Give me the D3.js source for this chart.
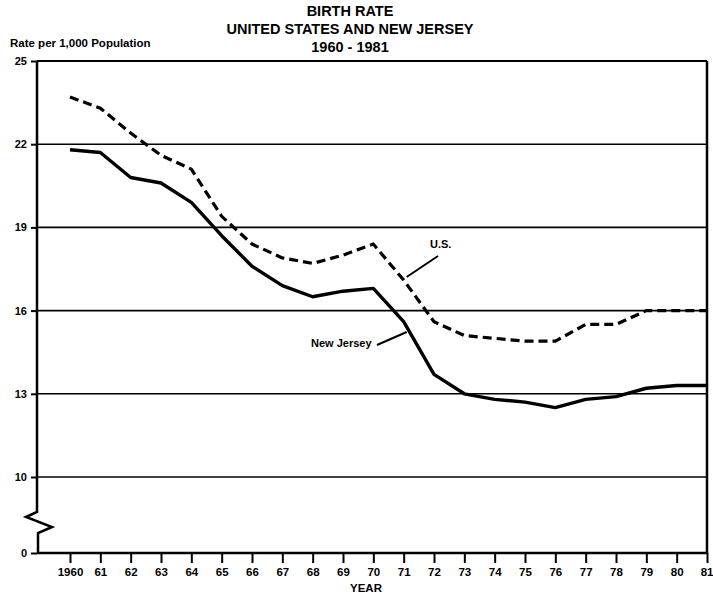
<!DOCTYPE html>
<html>
<head>
<meta charset="utf-8">
<script src="https://cdn.jsdelivr.net/npm/d3@7/dist/d3.min.js"></script>
<style>
  body { margin: 0; background: #fff; }
  svg text { font-family: "Liberation Sans", Arial, Helvetica, sans-serif; font-weight: bold; fill: #000; }
</style>
</head>
<body>
<div id="chart"></div>
<script>
let years = [1960, 1961, 1962, 1963, 1964, 1965, 1966, 1967, 1968, 1969, 1970,
             1971, 1972, 1973, 1974, 1975, 1976, 1977, 1978, 1979, 1980, 1981];
let usRate = [23.7, 23.3, 22.4, 21.6, 21.1, 19.4, 18.4, 17.9, 17.7, 18.0, 18.4,
              17.1, 15.6, 15.1, 15.0, 14.9, 14.9, 15.5, 15.5, 16.0, 16.0, 16.0];
let njRate = [21.8, 21.7, 20.8, 20.6, 19.9, 18.7, 17.6, 16.9, 16.5, 16.7, 16.8,
              15.6, 13.7, 13.0, 12.8, 12.7, 12.5, 12.8, 12.9, 13.2, 13.3, 13.3];
let yTicks = [0, 10, 13, 16, 19, 22, 25];
let gridTicks = [10, 13, 16, 19, 22, 25];
let yearLabels = ["1960", "61", "62", "63", "64", "65", "66", "67", "68", "69", "70",
                  "71", "72", "73", "74", "75", "76", "77", "78", "79", "80", "81"];
let titleLines = ["BIRTH RATE", "UNITED STATES AND NEW JERSEY", "1960 - 1981"];

function renderChart(){
  let width = 713,
      height = 594;

  let svg = d3.select("#chart")
    .append("svg")
    .attr("width", width)
    .attr("height", height)

  let axisX = 37,
      rightX = 707;

  // broken axis: 0 sits below the break, 10..25 linear
  let y = d3.scaleLinear()
    .domain([0, 10, 25])
    .range([553, 477, 61])

  let x = d3.scaleLinear()
    .domain([1960, 1981])
    .range([70, rightX])

  // title
  svg.append("g")
    .selectAll("text")
    .data(titleLines)
    .enter()
    .append("text")
      .attr("x", 350)
      .attr("y", (d, i) => [16, 34, 52][i])
      .attr("text-anchor", "middle")
      .style("font-size", "14.5px")
      .text(d => d)

  svg.append("text")
    .attr("x", 10)
    .attr("y", 47)
    .style("font-size", "11.5px")
    .text("Rate per 1,000 Population")

  // gridlines
  svg.append("g")
    .selectAll("line")
    .data(gridTicks)
    .enter()
    .append("line")
      .attr("x1", axisX)
      .attr("x2", rightX)
      .attr("y1", d => y(d))
      .attr("y2", d => y(d))
      .attr("stroke", "#000")
      .attr("stroke-width", d => d === 25 ? 2 : 1.6)

  // y axis ticks + labels
  let yAxis = svg.append("g")
    .attr("transform", `translate(${axisX},0)`)
    .call(d3.axisLeft(y).tickValues(yTicks).tickSize(6).tickPadding(4).tickFormat(d3.format("d")))
  yAxis.select(".domain").remove()
  yAxis.selectAll(".tick line").attr("stroke-width", 2)
  yAxis.selectAll(".tick text")
    .style("font-size", "11px")
    .attr("fill", "#000")

  // x axis ticks + labels
  let xAxis = svg.append("g")
    .attr("transform", `translate(0,${y(0)})`)
    .call(d3.axisBottom(x).tickValues(years).tickSize(10).tickPadding(5)
      .tickFormat((d, i) => yearLabels[i]))
  xAxis.select(".domain").remove()
  xAxis.selectAll(".tick line").attr("stroke-width", 2)
  xAxis.selectAll(".tick text")
    .style("font-size", "11.5px")
    .attr("fill", "#000")
  // last label sits against the page edge
  xAxis.selectAll(".tick text")
    .filter(d => d === 1981)
    .attr("text-anchor", "end")
    .attr("x", 6)

  svg.append("text")
    .attr("x", 366)
    .attr("y", 592)
    .attr("text-anchor", "middle")
    .style("font-size", "11.5px")
    .text("YEAR")

  // frame with the zigzag break on the left axis
  let b = y(0);
  let frame = d3.path();
  frame.moveTo(axisX, y(25));
  frame.lineTo(axisX, b - 41);
  frame.lineTo(axisX - 11, b - 36);
  frame.lineTo(axisX + 15, b - 26);
  frame.lineTo(axisX + 1, b - 20);
  frame.lineTo(axisX + 1, b);
  frame.lineTo(rightX, b);
  frame.lineTo(rightX, y(25));

  svg.append("path")
    .attr("d", frame.toString())
    .attr("fill", "none")
    .attr("stroke", "#000")
    .attr("stroke-width", 2.5)
    .attr("stroke-linejoin", "miter")

  let line = d3.line()
    .x((d, i) => x(years[i]))
    .y(d => y(d))

  svg.append("path")
    .datum(usRate)
    .attr("d", line)
    .attr("fill", "none")
    .attr("stroke", "#000")
    .attr("stroke-width", 3.2)
    .attr("stroke-dasharray", "9,5")

  svg.append("path")
    .datum(njRate)
    .attr("d", line)
    .attr("fill", "none")
    .attr("stroke", "#000")
    .attr("stroke-width", 3.4)
    .attr("stroke-linejoin", "round")

  // labels with leader lines
  svg.append("text")
    .attr("x", 430)
    .attr("y", 248)
    .style("font-size", "11px")
    .text("U.S.")
  svg.append("line")
    .attr("x1", 438).attr("y1", 256)
    .attr("x2", x(1971) + 3).attr("y2", 277)
    .attr("stroke", "#000").attr("stroke-width", 2)

  svg.append("text")
    .attr("x", 311)
    .attr("y", 347)
    .style("font-size", "11px")
    .text("New Jersey")
  svg.append("line")
    .attr("x1", 377).attr("y1", 345)
    .attr("x2", x(1971) + 3).attr("y2", 332)
    .attr("stroke", "#000").attr("stroke-width", 2)
}

renderChart()
</script>
</body>
</html>
